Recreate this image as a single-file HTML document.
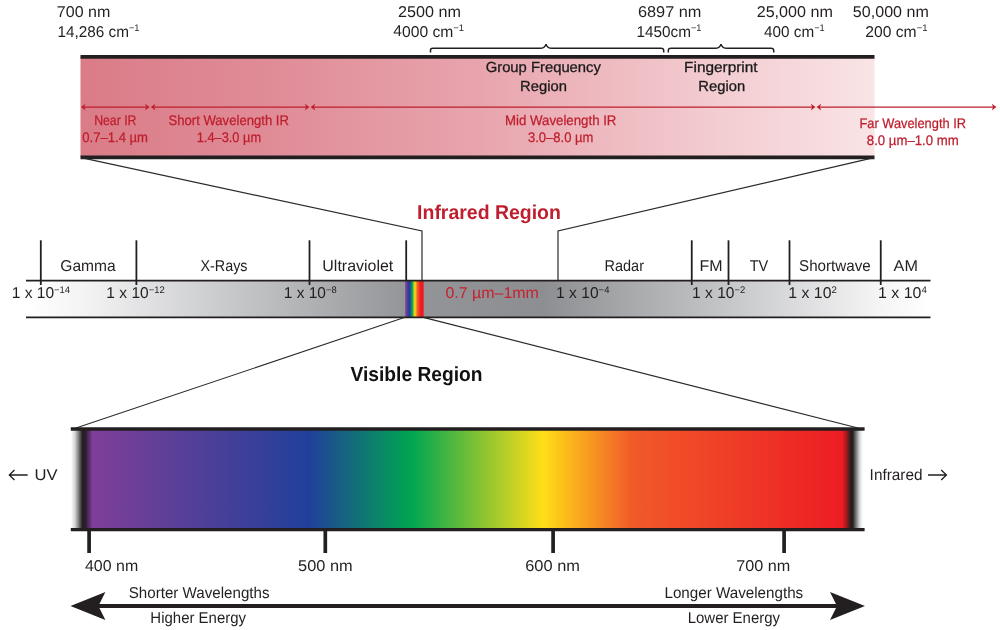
<!DOCTYPE html>
<html><head><meta charset="utf-8"><title>Infrared and Visible Regions</title>
<style>
html,body{margin:0;padding:0;background:#fff;}
svg{display:block;}
text{font-family:"Liberation Sans",sans-serif;fill:#231f20;text-rendering:geometricPrecision;}
.r{fill:#be1e2d;stroke:#be1e2d;stroke-width:0.25px;}
.r2{fill:#c8202f;}
.g{fill:#1a1a1a;stroke:#1a1a1a;stroke-width:0.3px;}
.h{font-weight:bold;fill:#111;}
.hr{font-weight:bold;fill:#be1e2d;}
</style></head><body>
<svg width="1000" height="630" viewBox="0 0 1000 630">
<defs>
<linearGradient id="ir" x1="0" x2="1" y1="0" y2="0">
<stop offset="0" stop-color="#da7c88"/><stop offset="0.25" stop-color="#e08d98"/><stop offset="0.5" stop-color="#e8a4ad"/><stop offset="0.75" stop-color="#f1c6cb"/><stop offset="1" stop-color="#f9e4e6"/>
</linearGradient>
<linearGradient id="gy" gradientUnits="userSpaceOnUse" x1="27" x2="931" y1="0" y2="0">
<stop offset="0" stop-color="#ffffff"/><stop offset="0.06" stop-color="#f4f4f5"/><stop offset="0.42" stop-color="#939598"/><stop offset="0.57" stop-color="#8c8e91"/><stop offset="0.94" stop-color="#f4f4f5"/><stop offset="1" stop-color="#ffffff"/>
</linearGradient>
<linearGradient id="rb" x1="0" x2="1" y1="0" y2="0">
<stop offset="0" stop-color="#7f3f98"/><stop offset="0.05" stop-color="#7f3f98"/><stop offset="0.17" stop-color="#2e3f98"/><stop offset="0.25" stop-color="#2740a0"/><stop offset="0.38" stop-color="#00a651"/><stop offset="0.52" stop-color="#ffde17"/><stop offset="0.67" stop-color="#f15a29"/><stop offset="0.83" stop-color="#ed1c24"/><stop offset="1" stop-color="#ed1c24"/>
</linearGradient>
<linearGradient id="vis" gradientUnits="userSpaceOnUse" x1="71" x2="864" y1="0" y2="0">
<stop offset="0" stop-color="#ffffff"/><stop offset="0.005" stop-color="#d4d4d4"/><stop offset="0.0145" stop-color="#231f20"/><stop offset="0.018" stop-color="#2d1b30"/><stop offset="0.027" stop-color="#7f3f98"/><stop offset="0.30" stop-color="#21409a"/><stop offset="0.43" stop-color="#00a651"/><stop offset="0.595" stop-color="#ffde17"/><stop offset="0.708" stop-color="#f15a29"/><stop offset="0.9725" stop-color="#ed1c24"/><stop offset="0.978" stop-color="#a01a1f"/><stop offset="0.9836" stop-color="#231f20"/><stop offset="0.9858" stop-color="#231f20"/><stop offset="0.9943" stop-color="#d4d4d4"/><stop offset="0.9985" stop-color="#ffffff"/>
</linearGradient>
</defs>
<rect width="1000" height="630" fill="#fff"/>
<rect x="80.5" y="57" width="794" height="100" fill="url(#ir)"/>
<line x1="80.5" y1="56.9" x2="874.5" y2="56.9" stroke="#231f20" stroke-width="3.8"/>
<line x1="80.5" y1="157.4" x2="874.5" y2="157.4" stroke="#231f20" stroke-width="3.7"/>
<polyline points="81,157.6 422,231 422,281" fill="none" stroke="#2b2b2b" stroke-width="1.2"/>
<polyline points="874,157.6 558,231 558,281" fill="none" stroke="#2b2b2b" stroke-width="1.2"/>
<rect x="26" y="281" width="905" height="36.5" fill="url(#gy)"/>
<rect x="405.2" y="281" width="18.5" height="36.5" fill="url(#rb)"/>
<line x1="26" y1="280.7" x2="930.5" y2="280.7" stroke="#231f20" stroke-width="1.7"/>
<line x1="26" y1="317.4" x2="930.5" y2="317.4" stroke="#231f20" stroke-width="1.6"/>
<line x1="40.8" y1="240.3" x2="40.8" y2="285" stroke="#231f20" stroke-width="1.8"/>
<line x1="136.4" y1="240.3" x2="136.4" y2="285" stroke="#231f20" stroke-width="1.8"/>
<line x1="309.5" y1="240.3" x2="309.5" y2="285" stroke="#231f20" stroke-width="1.8"/>
<line x1="691.75" y1="240.3" x2="691.75" y2="285" stroke="#231f20" stroke-width="1.8"/>
<line x1="728.5" y1="240.3" x2="728.5" y2="285" stroke="#231f20" stroke-width="1.8"/>
<line x1="789.5" y1="240.3" x2="789.5" y2="285" stroke="#231f20" stroke-width="1.8"/>
<line x1="880.75" y1="240.3" x2="880.75" y2="285" stroke="#231f20" stroke-width="1.8"/>
<line x1="406.2" y1="240.3" x2="406.2" y2="281" stroke="#231f20" stroke-width="1.8"/>
<line x1="404.3" y1="317.6" x2="76" y2="428" stroke="#2b2b2b" stroke-width="1.1"/>
<line x1="424.3" y1="317.6" x2="858" y2="428" stroke="#2b2b2b" stroke-width="1.1"/>
<rect x="71" y="429" width="793.5" height="100.5" fill="url(#vis)"/>
<line x1="70.8" y1="429" x2="864.6" y2="429" stroke="#231f20" stroke-width="3.4"/>
<line x1="70.8" y1="529.6" x2="864.6" y2="529.6" stroke="#231f20" stroke-width="3.4"/>
<line x1="89.1" y1="530" x2="89.1" y2="553" stroke="#231f20" stroke-width="3.7"/>
<line x1="325.3" y1="530" x2="325.3" y2="553" stroke="#231f20" stroke-width="3.7"/>
<line x1="553.1" y1="530" x2="553.1" y2="553" stroke="#231f20" stroke-width="3.7"/>
<line x1="784.1" y1="530" x2="784.1" y2="553" stroke="#231f20" stroke-width="3.7"/>
<line x1="95" y1="606" x2="840" y2="606" stroke="#231f20" stroke-width="3.8"/>
<path d="M70.5 606 L105.4 592 L98.4 606 L105.4 620 Z" fill="#231f20"/>
<path d="M865 606 L830 592 L837 606 L830 620 Z" fill="#231f20"/>
<path d="M430.5 52.5 V50 Q430.5 48.3 433 48.3 H540 Q545 48.3 546 44.1 Q547 48.3 552 48.3 H661 Q663.7 48.3 663.7 50.5 V52.5" fill="none" stroke="#231f20" stroke-width="1.5"/>
<path d="M668.3 52.5 V50.5 Q668.3 48.3 671 48.3 H715 Q720 48.3 721 44.1 Q722 48.3 727 48.3 H771 Q773.7 48.3 773.7 50.5 V52.5" fill="none" stroke="#231f20" stroke-width="1.5"/>
<line x1="83" y1="107.1" x2="147.6" y2="107.1" stroke="#be1e2d" stroke-width="1.2"/>
<path d="M81 107.1 l4.6 -3.4 l-1.3 3.4 l1.3 3.4 Z" fill="#be1e2d"/>
<path d="M149.6 107.1 l-4.6 -3.4 l1.3 3.4 l-1.3 3.4 Z" fill="#be1e2d"/>
<line x1="152.8" y1="107.1" x2="307.4" y2="107.1" stroke="#be1e2d" stroke-width="1.2"/>
<path d="M150.8 107.1 l4.6 -3.4 l-1.3 3.4 l1.3 3.4 Z" fill="#be1e2d"/>
<path d="M309.4 107.1 l-4.6 -3.4 l1.3 3.4 l-1.3 3.4 Z" fill="#be1e2d"/>
<line x1="312.6" y1="107.1" x2="813.4" y2="107.1" stroke="#be1e2d" stroke-width="1.2"/>
<path d="M310.6 107.1 l4.6 -3.4 l-1.3 3.4 l1.3 3.4 Z" fill="#be1e2d"/>
<path d="M815.4 107.1 l-4.6 -3.4 l1.3 3.4 l-1.3 3.4 Z" fill="#be1e2d"/>
<line x1="818.6" y1="107.1" x2="994.4" y2="107.1" stroke="#be1e2d" stroke-width="1.2"/>
<path d="M816.6 107.1 l4.6 -3.4 l-1.3 3.4 l1.3 3.4 Z" fill="#be1e2d"/>
<path d="M996.4 107.1 l-4.6 -3.4 l1.3 3.4 l-1.3 3.4 Z" fill="#be1e2d"/>
<text x="56.88" y="17.3" transform="rotate(0.02 56.9 17.3)" font-size="15.7" textLength="53.48" lengthAdjust="spacingAndGlyphs">700 nm</text>
<text x="57.42" y="36.5" transform="rotate(0.02 57.4 36.5)" font-size="15.7" textLength="82.08" lengthAdjust="spacingAndGlyphs">14,286 cm<tspan font-size="9.5" dy="-5.2">−1</tspan></text>
<text x="397.90" y="17.3" transform="rotate(0.02 397.9 17.3)" font-size="15.7" textLength="62.99" lengthAdjust="spacingAndGlyphs">2500 nm</text>
<text x="393.27" y="36.5" transform="rotate(0.02 393.3 36.5)" font-size="15.7" textLength="70.87" lengthAdjust="spacingAndGlyphs">4000 cm<tspan font-size="9.5" dy="-5.2">−1</tspan></text>
<text x="637.91" y="17.3" transform="rotate(0.02 637.9 17.3)" font-size="15.7" textLength="63.59" lengthAdjust="spacingAndGlyphs">6897 nm</text>
<text x="636.43" y="36.5" transform="rotate(0.02 636.4 36.5)" font-size="15.7" textLength="65.09" lengthAdjust="spacingAndGlyphs">1450cm<tspan font-size="9.5" dy="-5.2">−1</tspan></text>
<text x="756.68" y="17.3" transform="rotate(0.02 756.7 17.3)" font-size="15.7" textLength="76.21" lengthAdjust="spacingAndGlyphs">25,000 nm</text>
<text x="764.05" y="36.5" transform="rotate(0.02 764.0 36.5)" font-size="15.7" textLength="60.66" lengthAdjust="spacingAndGlyphs">400 cm<tspan font-size="9.5" dy="-5.2">−1</tspan></text>
<text x="852.89" y="17.3" transform="rotate(0.02 852.9 17.3)" font-size="15.7" textLength="75.96" lengthAdjust="spacingAndGlyphs">50,000 nm</text>
<text x="865.32" y="36.5" transform="rotate(0.02 865.3 36.5)" font-size="15.7" textLength="62.17" lengthAdjust="spacingAndGlyphs">200 cm<tspan font-size="9.5" dy="-5.2">−1</tspan></text>
<text class="g" x="485.71" y="72" transform="rotate(0.02 485.7 72)" font-size="14.6" textLength="115.18" lengthAdjust="spacingAndGlyphs">Group Frequency</text>
<text class="g" x="520.10" y="91.3" transform="rotate(0.02 520.1 91.3)" font-size="14.6" textLength="46.79" lengthAdjust="spacingAndGlyphs">Region</text>
<text class="g" x="684.10" y="72" transform="rotate(0.02 684.1 72)" font-size="14.6" textLength="73.50" lengthAdjust="spacingAndGlyphs">Fingerprint</text>
<text class="g" x="698.38" y="91.3" transform="rotate(0.02 698.4 91.3)" font-size="14.6" textLength="46.74" lengthAdjust="spacingAndGlyphs">Region</text>
<text class="r" x="94.13" y="125.2" transform="rotate(0.02 94.1 125.2)" font-size="13.9" textLength="42.27" lengthAdjust="spacingAndGlyphs">Near IR</text>
<text class="r" x="82.26" y="142.2" transform="rotate(0.02 82.3 142.2)" font-size="13.9" textLength="65.78" lengthAdjust="spacingAndGlyphs">0.7–1.4 µm</text>
<text class="r" x="168.44" y="125.2" transform="rotate(0.02 168.4 125.2)" font-size="13.9" textLength="120.53" lengthAdjust="spacingAndGlyphs">Short Wavelength IR</text>
<text class="r" x="196.69" y="142.2" transform="rotate(0.02 196.7 142.2)" font-size="13.9" textLength="64.42" lengthAdjust="spacingAndGlyphs">1.4–3.0 µm</text>
<text class="r" x="505.10" y="125.2" transform="rotate(0.02 505.1 125.2)" font-size="13.9" textLength="111.32" lengthAdjust="spacingAndGlyphs">Mid Wavelength IR</text>
<text class="r" x="528.04" y="142.2" transform="rotate(0.02 528.0 142.2)" font-size="13.9" textLength="65.30" lengthAdjust="spacingAndGlyphs">3.0–8.0 µm</text>
<text class="r" x="859.40" y="127.9" transform="rotate(0.02 859.4 127.9)" font-size="13.9" textLength="106.67" lengthAdjust="spacingAndGlyphs">Far Wavelength IR</text>
<text class="r" x="866.80" y="145.2" transform="rotate(0.02 866.8 145.2)" font-size="13.9" textLength="91.89" lengthAdjust="spacingAndGlyphs">8.0 µm–1.0 mm</text>
<text class="hr" x="417.10" y="218.6" transform="rotate(0.02 417.1 218.6)" font-size="20" textLength="143.79" lengthAdjust="spacingAndGlyphs">Infrared Region</text>
<text class="h" x="350.57" y="380.8" transform="rotate(0.02 350.6 380.8)" font-size="20.3" textLength="131.91" lengthAdjust="spacingAndGlyphs">Visible Region</text>
<text x="60.29" y="270.8" transform="rotate(0.02 60.3 270.8)" font-size="15.7" textLength="55.36" lengthAdjust="spacingAndGlyphs">Gamma</text>
<text x="200.46" y="270.8" transform="rotate(0.02 200.5 270.8)" font-size="15.7" textLength="47.02" lengthAdjust="spacingAndGlyphs">X-Rays</text>
<text x="322.37" y="270.8" transform="rotate(0.02 322.4 270.8)" font-size="15.7" textLength="70.88" lengthAdjust="spacingAndGlyphs">Ultraviolet</text>
<text x="604.54" y="270.8" transform="rotate(0.02 604.5 270.8)" font-size="15.7" textLength="39.45" lengthAdjust="spacingAndGlyphs">Radar</text>
<text x="699.40" y="270.8" transform="rotate(0.02 699.4 270.8)" font-size="15.7" textLength="23.11" lengthAdjust="spacingAndGlyphs">FM</text>
<text x="749.66" y="270.8" transform="rotate(0.02 749.7 270.8)" font-size="15.7" textLength="18.64" lengthAdjust="spacingAndGlyphs">TV</text>
<text x="799.03" y="270.8" transform="rotate(0.02 799.0 270.8)" font-size="15.7" textLength="71.64" lengthAdjust="spacingAndGlyphs">Shortwave</text>
<text x="893.61" y="270.8" transform="rotate(0.02 893.6 270.8)" font-size="15.7" textLength="24.27" lengthAdjust="spacingAndGlyphs">AM</text>
<text x="11.70" y="298" transform="rotate(0.02 11.7 298)" font-size="15.7" textLength="58.40" lengthAdjust="spacingAndGlyphs">1 x 10<tspan font-size="9.5" dy="-5.2">−14</tspan></text>
<text x="106.37" y="298" transform="rotate(0.02 106.4 298)" font-size="15.7" textLength="58.32" lengthAdjust="spacingAndGlyphs">1 x 10<tspan font-size="9.5" dy="-5.2">−12</tspan></text>
<text x="283.85" y="298" transform="rotate(0.02 283.8 298)" font-size="15.7" textLength="52.79" lengthAdjust="spacingAndGlyphs">1 x 10<tspan font-size="9.5" dy="-5.2">−8</tspan></text>
<text class="r2" x="445.42" y="298.3" transform="rotate(0.02 445.4 298.3)" font-size="15.7" textLength="93.43" lengthAdjust="spacingAndGlyphs">0.7 µm–1mm</text>
<text x="556.10" y="298" transform="rotate(0.02 556.1 298)" font-size="15.7" textLength="53.31" lengthAdjust="spacingAndGlyphs">1 x 10<tspan font-size="9.5" dy="-5.2">−4</tspan></text>
<text x="692.10" y="298" transform="rotate(0.02 692.1 298)" font-size="15.7" textLength="53.12" lengthAdjust="spacingAndGlyphs">1 x 10<tspan font-size="9.5" dy="-5.2">−2</tspan></text>
<text x="788.35" y="298" transform="rotate(0.02 788.3 298)" font-size="15.7" textLength="48.49" lengthAdjust="spacingAndGlyphs">1 x 10<tspan font-size="9.5" dy="-5.2">2</tspan></text>
<text x="877.99" y="298" transform="rotate(0.02 878.0 298)" font-size="15.7" textLength="48.82" lengthAdjust="spacingAndGlyphs">1 x 10<tspan font-size="9.5" dy="-5.2">4</tspan></text>
<text x="34.47" y="480.3" transform="rotate(0.02 34.5 480.3)" font-size="15.7" textLength="23.06" lengthAdjust="spacingAndGlyphs">UV</text>
<text x="869.62" y="480.3" transform="rotate(0.02 869.6 480.3)" font-size="15.7" textLength="52.98" lengthAdjust="spacingAndGlyphs">Infrared</text>
<text x="85.00" y="570.6" transform="rotate(0.02 85.0 570.6)" font-size="15.7" textLength="53.16" lengthAdjust="spacingAndGlyphs">400 nm</text>
<text x="298.12" y="570.6" transform="rotate(0.02 298.1 570.6)" font-size="15.7" textLength="54.50" lengthAdjust="spacingAndGlyphs">500 nm</text>
<text x="525.24" y="570.6" transform="rotate(0.02 525.2 570.6)" font-size="15.7" textLength="54.67" lengthAdjust="spacingAndGlyphs">600 nm</text>
<text x="736.23" y="570.6" transform="rotate(0.02 736.2 570.6)" font-size="15.7" textLength="54.08" lengthAdjust="spacingAndGlyphs">700 nm</text>
<text x="128.77" y="598.1" transform="rotate(0.02 128.8 598.1)" font-size="15.7" textLength="140.75" lengthAdjust="spacingAndGlyphs">Shorter Wavelengths</text>
<text x="150.37" y="623.3" transform="rotate(0.02 150.4 623.3)" font-size="15.7" textLength="95.63" lengthAdjust="spacingAndGlyphs">Higher Energy</text>
<text x="664.45" y="598.1" transform="rotate(0.02 664.5 598.1)" font-size="15.7" textLength="138.75" lengthAdjust="spacingAndGlyphs">Longer Wavelengths</text>
<text x="687.65" y="623.3" transform="rotate(0.02 687.7 623.3)" font-size="15.7" textLength="92.47" lengthAdjust="spacingAndGlyphs">Lower Energy</text>
<path d="M27.7 475 H9.5 M14.5 470 L9.3 475 L14.5 480" fill="none" stroke="#231f20" stroke-width="1.3"/>
<path d="M928 475 H946.2 M941.2 470 L946.4 475 L941.2 480" fill="none" stroke="#231f20" stroke-width="1.3"/>
</svg>
</body></html>
